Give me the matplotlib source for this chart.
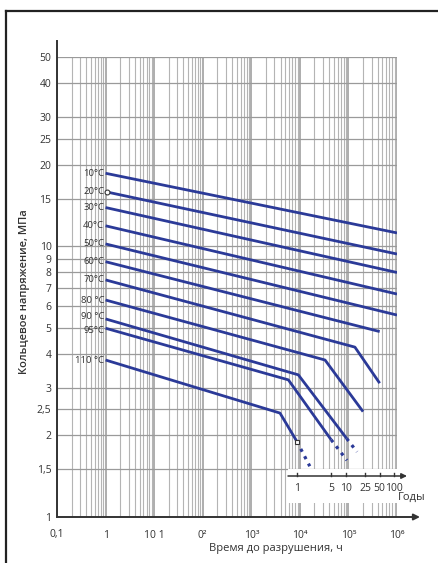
import numpy as np
import matplotlib
matplotlib.use('Agg')
import matplotlib.pyplot as plt
from matplotlib.lines import Line2D
from matplotlib.patches import Rectangle
from matplotlib.ticker import FixedLocator, LogLocator, NullLocator

plt.rcParams['font.family'] = ['Open Sans', 'DejaVu Sans']

# curves: time to failure (h) vs hoop stress (MPa)
temps = ['10°C', '20°C', '30°C', '40°C', '50°C', '60°C', '70°C',
         '80 °C', '90 °C', '95°C', '110 °C']
solid_t = [[1, 1e6], [1, 1e6], [1, 1e6], [1, 1e6], [1, 1e6],
           [1, 4.4e5], [1, 1.36e5, 4.4e5], [1, 3.3e4, 2.0e5],
           [1, 9.3e3, 9.2e4], [1, 5.8e3, 4.4e4], [1, 3.9e3, 8.7e3]]
solid_s = [[18.6, 11.2], [15.9, 9.36], [13.9, 8.0], [11.9, 6.66], [10.2, 5.57],
           [8.77, 4.84], [7.51, 4.24, 3.12], [6.33, 3.80, 2.45],
           [5.39, 3.35, 1.95], [4.98, 3.21, 1.93], [3.80, 2.42, 1.90]]
dot_t = [[], [], [], [], [], [], [], [], [9.2e4, 1.5e5], [4.4e4, 9.3e4], [8.7e3, 1.6e4]]
dot_s = [[], [], [], [], [], [], [], [], [1.95, 1.74], [1.93, 1.62], [1.90, 1.54]]

yticks = [1, 1.5, 2, 2.5, 3, 4, 5, 6, 7, 8, 9, 10, 15, 20, 25, 30, 40, 50]
ylabels = ['1', '1,5', '2', '2,5', '3', '4', '5', '6', '7', '8', '9', '10',
           '15', '20', '25', '30', '40', '50']
xticks = [0.1, 1, 10, 100, 1e3, 1e4, 1e5, 1e6]
xlabels = ['0,1', '1', '10 1', '0²', '10³', '10⁴', '10⁵', '10⁶']
years = [1, 5, 10, 25, 50, 100]
year_labels = ['1', '5', '10', '25', '50', '100']

W, H = 438, 563
fig = plt.figure(figsize=(W / 100, H / 100), dpi=100)
ax = fig.add_axes([57 / W, 1 - 517 / H, 340 / W, 460 / H])
ax.set_xscale('log')
ax.set_yscale('log')
ax.set_xlim(0.1, 1e6)
ax.set_ylim(1, 50)

ax.xaxis.set_major_locator(FixedLocator(xticks))
ax.xaxis.set_minor_locator(LogLocator(base=10, subs=np.arange(2, 10)))
ax.set_xticks(xticks)
ax.set_xticklabels(xlabels)
ax.yaxis.set_major_locator(FixedLocator(yticks))
ax.yaxis.set_minor_locator(NullLocator())
ax.set_yticklabels(ylabels)
ax.tick_params(which='both', length=0, labelsize=7.5, labelcolor='#333333')
ax.tick_params(axis='x', pad=9)
ax.tick_params(axis='y', pad=4)
ax.xaxis.set_minor_formatter(plt.NullFormatter())

ax.grid(axis='x', which='both', color='#b4b4b4', lw=0.8)
ax.grid(axis='x', which='major', color='#a0a0a0', lw=1.2)
ax.grid(axis='y', which='major', color='#9a9a9a', lw=0.9)
ax.set_axisbelow(True)
for sp in ax.spines.values():
    sp.set_visible(False)

blue = '#2b3a98'
for i, lab in enumerate(temps):
    ax.plot(solid_t[i], solid_s[i], color=blue, lw=2.0, solid_capstyle='butt', zorder=4)
    if dot_t[i]:
        ax.plot(dot_t[i], dot_s[i], color=blue, lw=2.3, ls=(0, (1, 1.6)), zorder=4)
    # 90 and 95 sit close together: nudge them apart a little
    dy = 1.5 if lab == '90 °C' else (-1.5 if lab == '95°C' else 0)
    ax.annotate(lab, (0.93, solid_s[i][0]), xytext=(0, dy), textcoords='offset points',
                ha='right', va='center', fontsize=6.8, color='#333333', zorder=5)

# open markers
ax.plot([1.05], [solid_s[1][0]], marker='o', ms=3.5, mfc='white', mec='#333333', mew=0.8, zorder=6)
ax.plot([solid_t[10][-1]], [solid_s[10][-1]], marker='s', ms=3.5, mfc='white', mec='#333333', mew=0.8, zorder=6)

# axes with arrows
ax.annotate('', xy=(363 / 340, 0), xytext=(0, 0), xycoords='axes fraction',
            arrowprops=dict(arrowstyle='-|>', color='#333333', lw=1.4,
                            mutation_scale=9, shrinkA=0, shrinkB=0),
            annotation_clip=False)
ax.plot([0, 0], [0, 476 / 460], transform=ax.transAxes, color='#333333', lw=1.4,
        clip_on=False, zorder=6)

# years axis
box = Rectangle(((288 - 57) / 340, (517 - 503) / 460), 160 / 340, 34 / 460,
                transform=ax.transAxes, facecolor='white', edgecolor='none',
                zorder=2, clip_on=False)
ax.add_patch(box)
yy = (517 - 476) / 460
ax.annotate('', xy=((407 - 57) / 340, yy), xytext=((288 - 57) / 340, yy),
            xycoords='axes fraction',
            arrowprops=dict(arrowstyle='-|>', color='#333333', lw=1.1,
                            mutation_scale=8, shrinkA=0, shrinkB=0),
            annotation_clip=False, zorder=3)
trans = ax.get_xaxis_transform()
for y_, yl in zip(years, year_labels):
    h = y_ * 8760
    ax.plot([h, h], [yy, yy + 0.007], transform=trans, color='#333333', lw=1.0,
            clip_on=False, zorder=3)
    ax.text(h, yy - 0.015, yl, transform=trans, ha='center', va='top',
            fontsize=7.5, color='#333333', zorder=3)
fig.text(412 / W, 1 - 497 / H, 'Годы', ha='center', va='center', fontsize=8,
         color='#333333')

fig.text(25 / W, 1 - 292 / H, 'Кольцевое напряжение, МПа', rotation=90,
         ha='center', va='center', fontsize=8, fontweight='semibold', color='#333333')
fig.text(276 / W, 1 - 548 / H, 'Время до разрушения, ч', ha='center', va='center',
         fontsize=8, color='#333333')

# frame
fig.add_artist(Line2D([6 / W, 1], [1 - 11 / H, 1 - 11 / H], color='#222222', lw=1.6))
fig.add_artist(Line2D([6 / W, 6 / W], [0, 1 - 11 / H], color='#222222', lw=1.6))

fig.savefig('out.png', dpi=100)
